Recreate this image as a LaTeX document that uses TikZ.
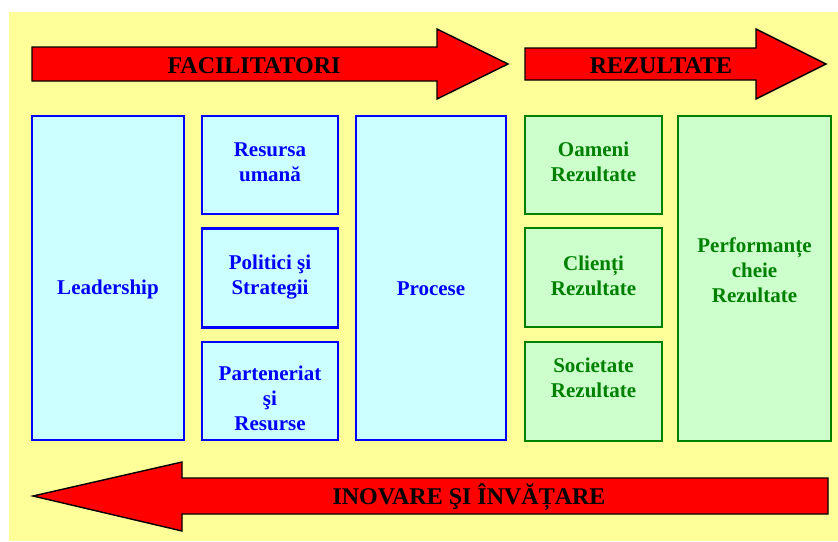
\documentclass[tikz,border=0pt]{standalone}
\usepackage{fontspec}
\setmainfont{Liberation Serif}
\definecolor{paper}{HTML}{FFFF99}
\definecolor{enablerfill}{HTML}{CCFFFF}
\definecolor{enablerline}{HTML}{0000FF}
\definecolor{resultfill}{HTML}{CCFFCC}
\definecolor{resultline}{HTML}{008000}
\definecolor{arrowred}{HTML}{FF0000}
\begin{document}
\begin{tikzpicture}[x=1pt,y=-1pt,
  enabler/.style={draw=enablerline, fill=enablerfill, line width=2.8pt, inner sep=0pt, outer sep=0pt},
  result/.style={draw=resultline, fill=resultfill, line width=2.6pt, inner sep=0pt, outer sep=0pt},
  bigarrow/.style={draw=black, fill=arrowred, line width=1.4pt, line join=miter},
  entext/.style={text=enablerline, font=\bfseries\fontsize{21}{25}\selectfont, align=center, inner sep=0pt},
  restext/.style={text=resultline, font=\bfseries\fontsize{21}{25}\selectfont, align=center, inner sep=0pt},
  arrowtext/.style={text=black, font=\bfseries\fontsize{24}{28}\selectfont, inner sep=0pt}
]
\useasboundingbox (0,0) rectangle (838,541);
\fill[paper] (9,12) rectangle (838,541);

% top arrows
\draw[bigarrow] (32,47) -- (437,47) -- (437,29) -- (508,64) -- (437,99) -- (437,81) -- (32,81) -- cycle;
\draw[bigarrow] (525,48) -- (756,48) -- (756,29) -- (826,64) -- (756,99) -- (756,80) -- (525,80) -- cycle;
\node[arrowtext] (fac) at (254,66) {FACILITATORI};
\node[arrowtext] (rez) at (661,66) {REZULTATE};

% enablers
\node[enabler, minimum width=152, minimum height=324] (lead) at (108,278) {};
\node[enabler, minimum width=136, minimum height=98] (hr) at (270,165) {};
\node[enabler, minimum width=136, minimum height=99] (pol) at (270,278) {};
\node[enabler, minimum width=136, minimum height=98] (part) at (270,391) {};
\node[enabler, minimum width=150, minimum height=324] (proc) at (431,278) {};

\node[entext] (t-lead) at ([yshift=-11]lead.center) {Leadership};
\node[entext] (t-hr) at ([yshift=3]hr.center) {Resursa\\umană};
\node[entext] (t-pol) at ([yshift=1]pol.center) {Politici şi\\Strategii};
\node[entext] (t-part) at ([yshift=-7]part.center) {Parteneriat\\şi\\Resurse};
\node[entext] (t-proc) at ([yshift=-11]proc.center) {Procese};

% results
\node[result, minimum width=137, minimum height=98] (ppl) at (593.5,165) {};
\node[result, minimum width=137, minimum height=99] (cli) at (593.5,277.5) {};
\node[result, minimum width=137, minimum height=99] (soc) at (593.5,391.5) {};
\node[result, minimum width=153, minimum height=325] (kpi) at (754.5,278.5) {};

\node[restext] (t-ppl) at ([yshift=3]ppl.center) {Oameni\\Rezultate};
\node[restext] (t-cli) at ([yshift=2]cli.center) {Clienți\\Rezultate};
\node[restext] (t-soc) at ([yshift=14]soc.center) {Societate\\Rezultate};
\node[restext] (t-kpi) at ([yshift=8]kpi.center) {Performanțe\\cheie\\Rezultate};

% bottom arrow
\draw[bigarrow] (33,496) -- (182,462) -- (182,478) -- (828,478) -- (828,514) -- (182,514) -- (182,531) -- cycle;
\node[arrowtext] (inv) at (469,497) {INOVARE ŞI ÎNVĂȚARE};
\end{tikzpicture}
\end{document}
